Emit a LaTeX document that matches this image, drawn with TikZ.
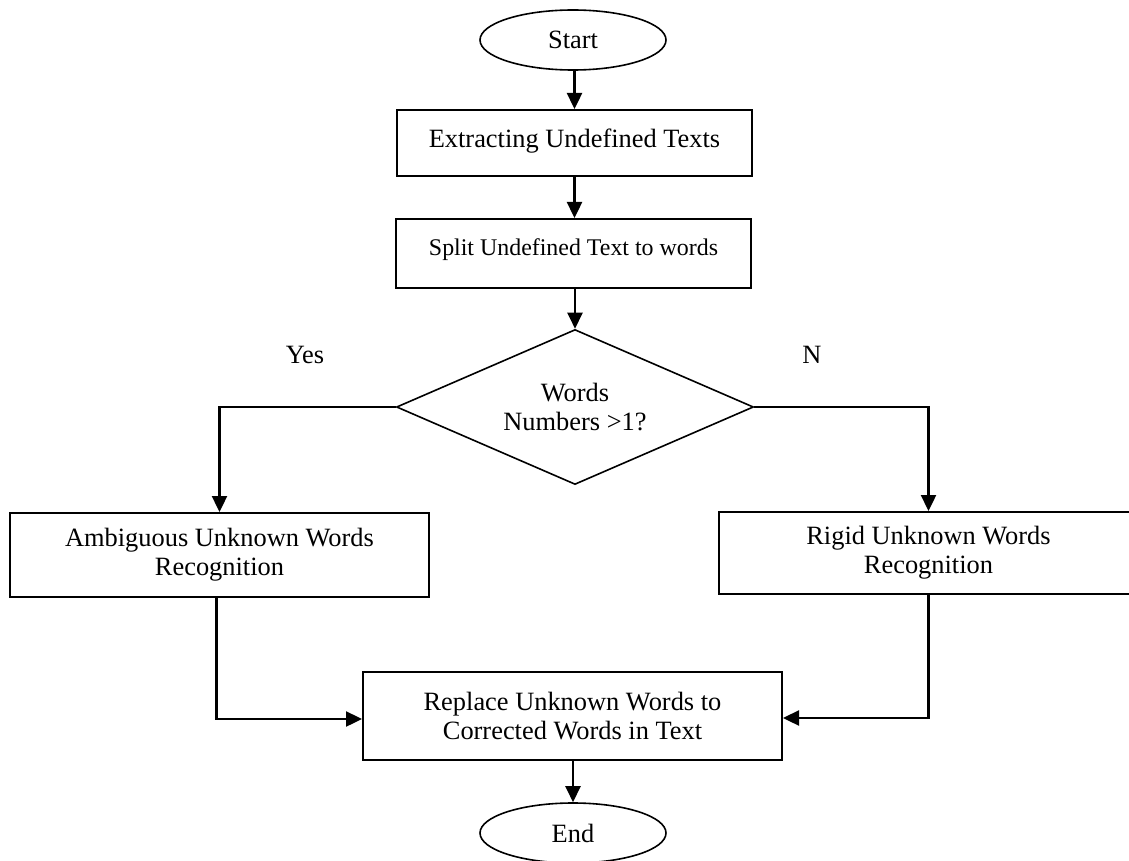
\documentclass[tikz,border=0pt]{standalone}
\usepackage{fontspec}
\setmainfont{Liberation Serif}
\usetikzlibrary{shapes.geometric,arrows.meta}
\begin{document}
\begin{tikzpicture}[x=1pt,y=-1pt,
  txt/.style={font=\fontsize{26.4}{29}\selectfont},
  procbox/.style={draw,line width=2pt,rectangle,inner sep=0pt,align=center,txt},
  term/.style={draw,line width=1.6pt,ellipse,inner sep=0pt,minimum width=186pt,minimum height=60pt,txt},
  decision/.style={draw,line width=1.6pt,diamond,inner sep=0pt,aspect=2.3,minimum width=357pt,minimum height=155pt,align=center,txt},
  arr/.style={line width=2.4pt,-{Triangle[width=15pt,length=16pt]}},
  lbl/.style={txt,inner sep=0pt}]
\useasboundingbox (0,0) rectangle (1129,861);
\node[term] (start) at (573,40) {Start};
\node[procbox,minimum width=355pt,minimum height=66pt,text depth=10pt] (ext) at (574.5,143) {Extracting Undefined Texts};
\node[procbox,minimum width=355pt,minimum height=69pt,text depth=13pt,font=\fontsize{23.9}{27}\selectfont] (split) at (573.5,253.5) {Split Undefined Text to words};
\node[decision] (dia) at (575,407) {Words\\Numbers {>}1?};
\node[procbox,minimum width=419pt,minimum height=84pt] (amb) at (219.5,555) {Ambiguous Unknown Words\\Recognition};
\node[procbox,minimum width=419pt,minimum height=82pt] (rigid) at (928.5,553) {Rigid Unknown Words\\Recognition};
\node[procbox,minimum width=419pt,minimum height=88pt] (repl) at (572.5,716) {Replace Unknown Words to\\Corrected Words in Text};
\node[term] (end) at (573,833) {End};
\node[lbl] (yes) at (305,355) {Yes};
\node[lbl] (no) at (812,355) {N};
\draw[arr] (start.south -| ext.north) -- (ext.north);
\draw[arr] (ext.south) -- (ext.south |- split.north);
\draw[arr] (split.south -| dia.north) -- (dia.north);
\draw[arr] (dia.west) -| (amb.north);
\draw[arr] (dia.east) -| (rigid.north);
\draw[arr] ([xshift=-3pt]amb.south) |- ([yshift=-3pt]repl.west);
\draw[arr] (rigid.south) |- ([yshift=-2pt]repl.east);
\draw[arr] (repl.south -| end.north) -- (end.north);
\end{tikzpicture}
\end{document}
